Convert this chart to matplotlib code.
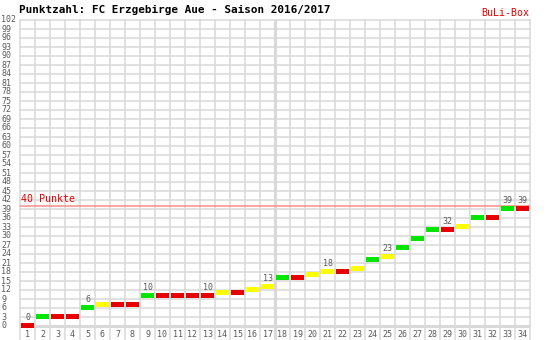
import matplotlib
matplotlib.use('Agg')
import matplotlib.pyplot as plt
from matplotlib.transforms import blended_transform_factory

# Spieltage und Punktestand
matchdays = list(range(1, 35))
points = [0, 3, 3, 3, 6, 7, 7, 7, 10, 10, 10, 10, 10, 11, 11, 12, 13,
          16, 16, 17, 18, 18, 19, 22, 23, 26, 29, 32, 32, 33, 36, 36, 39, 39]
# S = Sieg, U = Unentschieden, N = Niederlage
results = ['N', 'S', 'N', 'N', 'S', 'U', 'N', 'N', 'S', 'N', 'N', 'N', 'N', 'U', 'N', 'U', 'U',
           'S', 'N', 'U', 'U', 'N', 'U', 'S', 'U', 'S', 'S', 'S', 'N', 'U', 'S', 'N', 'S', 'N']
labeled_days = [1, 5, 9, 13, 17, 21, 25, 29, 33, 34]
y_ticks = list(range(0, 103, 3))

colors = {'S': '#00e600', 'U': '#ffff00', 'N': '#e60000'}
grid_color = '#d9d9d9'
text_color = '#5a5a5a'
mono = 'DejaVu Sans Mono'

fig = plt.figure(figsize=(5.51, 3.40), dpi=100)
W, H = 551, 340
ax = fig.add_axes([20 / W, 0, 510 / W, 320 / H])
ax.set_xlim(0.5, 34.5)
ax.set_ylim(-320 / 3 + 102, 102)
ax.axis('off')

# Gitter
for y in y_ticks:
    ax.axhline(y, color=grid_color, lw=1.1, zorder=1, clip_on=False)
for x in range(0, 35):
    ax.axvline(x + 0.5, color=grid_color, lw=1.1, zorder=1, clip_on=False)
ax.axhline(0, color=grid_color, lw=2.2, zorder=1)
ax.axvline(17.5, color=grid_color, lw=2.2, zorder=1)

# 40-Punkte-Linie
ax.axhline(40, color='#ff8c8c', lw=1.1, zorder=2)
ax.text(0.55, 42.3, '40 Punkte', color='#e60000', fontsize=7.2, family=mono,
        va='center', ha='left', zorder=3)

# Balken
ax.bar(matchdays, 1.67, bottom=[p - 0.83 for p in points], width=0.88,
       color=[colors[r] for r in results], zorder=3)

# Werte
for d in labeled_days:
    ax.text(d, points[d - 1] + 2.7, str(points[d - 1]), color=text_color,
            fontsize=6, family=mono, ha='center', va='center', zorder=4)

# Achsenbeschriftung
for d in matchdays:
    ax.text(d, -2.7, str(d), color=text_color, fontsize=6, family=mono,
            ha='center', va='center')
trans = blended_transform_factory(fig.transFigure, ax.transData)
for y in y_ticks:
    fig.text(1.5 / W, y, str(y), transform=trans, color=text_color, fontsize=6,
             family=mono, ha='left', va='center')

fig.text(19 / W, 1 - 10 / H, 'Punktzahl: FC Erzgebirge Aue - Saison 2016/2017',
         fontsize=7.9, family=mono, weight='bold', ha='left', va='center')
fig.text(529 / W, 1 - 12.5 / H, 'BuLi-Box', fontsize=7.2, family=mono,
         color='#e60000', ha='right', va='center')

fig.savefig('out.png', dpi=100)
